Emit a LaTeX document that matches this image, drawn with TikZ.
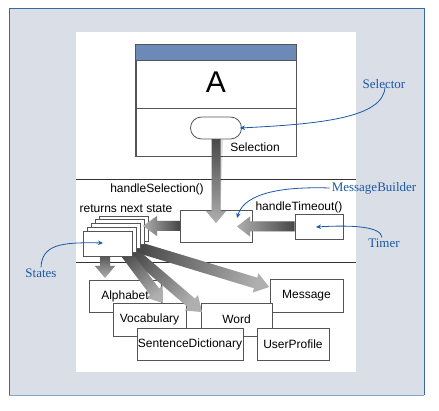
\documentclass[tikz,border=0pt]{standalone}
\usepackage{fontspec}
\setmainfont{Liberation Serif}
\setsansfont{Liberation Sans}
\usetikzlibrary{calc,arrows.meta}
\definecolor{framebg}{RGB}{217,222,231}
\definecolor{frameline}{RGB}{58,104,166}
\definecolor{hdr}{RGB}{107,138,184}
\definecolor{callout}{RGB}{28,88,165}
\definecolor{boxline}{RGB}{85,85,85}
\definecolor{fadark}{RGB}{70,70,70}
\definecolor{falight}{RGB}{175,175,175}
% fat shaded arrow: [half shaft width]{start}{tip}{head length}
\newcommand\fatarrow[4][5pt]{%
  \path let \p1=($(#3)-(#2)$), \n1={atan2(\y1,\x1)} in
    \pgfextra{\pgfmathparse{\n1-90}\xdef\faang{\pgfmathresult}};
  \coordinate (fahead) at ($(#3)!#4!(#2)$);
  \fill[black, opacity=0.13, shift={(2.5,2.5)}]
    ($(#2)!#1!90:(#3)$) -- ($(fahead)!#1!90:(#3)$) -- ($(fahead)!10pt!90:(#3)$)
    -- (#3) -- ($(fahead)!10pt!-90:(#3)$) -- ($(fahead)!#1!-90:(#3)$)
    -- ($(#2)!#1!-90:(#3)$) -- cycle;
  \shade[top color=falight, bottom color=fadark, shading angle=\faang]
    ($(#2)!#1!90:(#3)$) -- ($(fahead)!#1!90:(#3)$) -- ($(fahead)!10pt!90:(#3)$)
    -- (#3) -- ($(fahead)!10pt!-90:(#3)$) -- ($(fahead)!#1!-90:(#3)$)
    -- ($(#2)!#1!-90:(#3)$) -- cycle;
}
\begin{document}
\begin{tikzpicture}[x=1pt,y=-1pt,
  every node/.style={inner sep=0pt, font=\sffamily\fontsize{12}{14}\selectfont},
  box/.style={draw=boxline, line width=0.8pt, fill=white},
  lbl/.style={font=\rmfamily\fontsize{13}{15}\selectfont, text=callout},
  callarrow/.style={draw=callout, line width=0.8pt, -{Stealth[length=5pt,width=4.5pt]}},
  sep/.style={draw=black!80, line width=0.8pt}]
\useasboundingbox (0,0) rectangle (439,411);
% frame and panel
\fill[framebg] (9,8) rectangle (424,395);
\draw[frameline, line width=0.8pt] (9,395) -- (9,8) -- (424,8) -- (424,395);
\draw[frameline!60, line width=0.8pt] (9,395) -- (424,395);
\fill[white] (76,32) rectangle (356,372);

% class A
\node[box, minimum width=160pt, minimum height=111pt] (boxA) at (216,100.5) {};
\fill[hdr] (boxA.north west) rectangle ($(boxA.north east)+(0,16)$);
\draw[boxline, line width=0.8pt] (boxA.north west) rectangle ($(boxA.north east)+(0,16)$);
\draw[boxline, line width=0.8pt] ($(boxA.north west)+(0,64)$) -- ($(boxA.north east)+(0,64)$);
\draw[boxline, line width=0.8pt] (boxA.north west) rectangle (boxA.south east);
\node[font=\sffamily\fontsize{30}{32}\selectfont] (aname) at (216,82.5) {A};
\node (seltext) at (255,147) {Selection};

% separators
\draw[sep] (76,179) -- (356,179);
\draw[sep] (76,262) -- (356,262);

% middle boxes
\node[box, minimum width=72pt, minimum height=32pt] (mb) at (216,226) {};
\node[box, minimum width=48pt, minimum height=25pt] (timer) at (319,226.5) {};
\node (hsel) at (157,189) {handleSelection()};
\node (rns) at (126,209) {returns next state};
\node (hto) at (299,207) {handleTimeout()};

% lower boxes
\node[box, minimum width=72pt, minimum height=32pt] (alph) at (125,296) {Alphabet};
\node[box, minimum width=73pt, minimum height=33pt] (msg) at (306.5,295.5) {Message};
\node[box, minimum width=73pt, minimum height=33pt] (voc) at (149.5,319.5) {Vocabulary};
\node[box, minimum width=71pt, minimum height=33pt] (word) at (236.5,319.5) {Word};
\node[box, minimum width=106pt, minimum height=32pt] (sdict) at (190,344) {SentenceDictionary};
\node[box, minimum width=72pt, minimum height=32pt] (uprof) at (293,344) {UserProfile};

% fan arrows from states
\coordinate (s1) at (105,252);
\coordinate (s2) at (122,248);
\coordinate (s3) at (125,246);
\coordinate (s4) at (127,244);
\coordinate (t1) at (105,278);
\coordinate (t2) at (163,303);
\coordinate (t3) at (202,312);
\coordinate (t4) at (269,287);
\fatarrow[5.5pt]{s4}{t4}{14pt}
\fatarrow[5.5pt]{s3}{t3}{14pt}
\fatarrow[5.5pt]{s2}{t2}{14pt}
\fatarrow[5pt]{s1}{t1}{12pt}

% states stack
\foreach \k in {4,3,2,1} {
  \node[box, minimum width=49pt, minimum height=25pt] (st\k) at ({107.5+4.2*\k},{243.5-3.75*\k}) {};
}
\node[box, minimum width=49pt, minimum height=25pt] (st) at (107.5,243.5) {};

% gray arrows into MessageBuilder and states
\coordinate (t5) at (216,223);
\coordinate (t6) at (237,226.5);
\coordinate (t7) at (143,226);
\fatarrow[4.5pt]{216,137}{t5}{12pt}
\fatarrow[5pt]{timer.west}{t6}{13pt}
\fatarrow[5pt]{mb.west}{t7}{14pt}

% selection pill
\node[draw=boxline, line width=0.8pt, fill=white, rounded corners=11pt,
      minimum width=51pt, minimum height=22pt] (sel) at (216,128) {};

% callouts
\node[lbl] (lsel) at (384,84) {Selector};
\node[lbl] (lmb) at (374,188) {MessageBuilder};
\node[lbl] (ltim) at (384,243) {Timer};
\node[lbl] (lst) at (41,273) {States};
\coordinate (c1) at (240,128);
\coordinate (c2) at (237,218);
\coordinate (c3) at (316,227);
\coordinate (c4) at (103,243);
\draw[callarrow] ($(lsel.south)+(1,-2)$) .. controls (384,118) and (320,124) .. (c1);
\draw[callarrow] ($(lmb.west)+(-2,0)$) .. controls (268,186) and (243,198) .. (c2);
\draw[callarrow] ($(ltim.north)+(-2,-1)$) .. controls (381,226) and (350,225) .. (c3);
\draw[callarrow] ($(lst.north)+(0,-1)$) .. controls (42,245) and (60,242) .. (c4);
\end{tikzpicture}
\end{document}
